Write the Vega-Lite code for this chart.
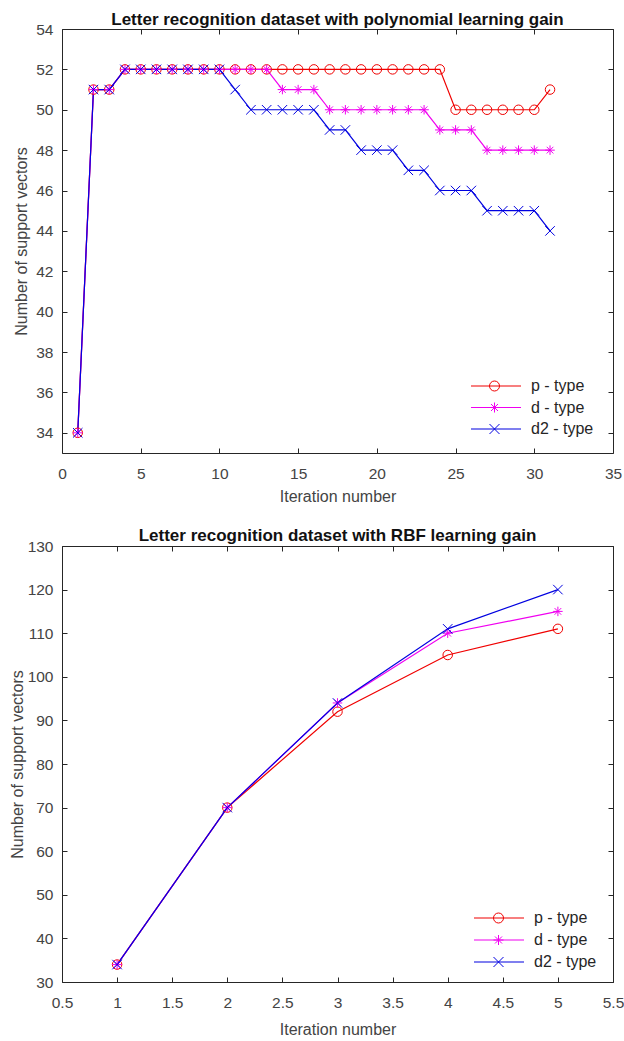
{
  "$schema": "https://vega.github.io/schema/vega-lite/v6.json",
  "background": "white",
  "autosize": {"type": "pad"},
  "padding": {"left": 8, "top": 10, "right": 0, "bottom": 0},
  "datasets": {
    "poly": [
      {"s":"p - type","i":1,"v":34},{"s":"p - type","i":2,"v":51},{"s":"p - type","i":3,"v":51},{"s":"p - type","i":4,"v":52},{"s":"p - type","i":5,"v":52},{"s":"p - type","i":6,"v":52},{"s":"p - type","i":7,"v":52},{"s":"p - type","i":8,"v":52},{"s":"p - type","i":9,"v":52},{"s":"p - type","i":10,"v":52},{"s":"p - type","i":11,"v":52},{"s":"p - type","i":12,"v":52},{"s":"p - type","i":13,"v":52},{"s":"p - type","i":14,"v":52},{"s":"p - type","i":15,"v":52},{"s":"p - type","i":16,"v":52},{"s":"p - type","i":17,"v":52},{"s":"p - type","i":18,"v":52},{"s":"p - type","i":19,"v":52},{"s":"p - type","i":20,"v":52},{"s":"p - type","i":21,"v":52},{"s":"p - type","i":22,"v":52},{"s":"p - type","i":23,"v":52},{"s":"p - type","i":24,"v":52},{"s":"p - type","i":25,"v":50},{"s":"p - type","i":26,"v":50},{"s":"p - type","i":27,"v":50},{"s":"p - type","i":28,"v":50},{"s":"p - type","i":29,"v":50},{"s":"p - type","i":30,"v":50},{"s":"p - type","i":31,"v":51},
      {"s":"d - type","i":1,"v":34},{"s":"d - type","i":2,"v":51},{"s":"d - type","i":3,"v":51},{"s":"d - type","i":4,"v":52},{"s":"d - type","i":5,"v":52},{"s":"d - type","i":6,"v":52},{"s":"d - type","i":7,"v":52},{"s":"d - type","i":8,"v":52},{"s":"d - type","i":9,"v":52},{"s":"d - type","i":10,"v":52},{"s":"d - type","i":11,"v":52},{"s":"d - type","i":12,"v":52},{"s":"d - type","i":13,"v":52},{"s":"d - type","i":14,"v":51},{"s":"d - type","i":15,"v":51},{"s":"d - type","i":16,"v":51},{"s":"d - type","i":17,"v":50},{"s":"d - type","i":18,"v":50},{"s":"d - type","i":19,"v":50},{"s":"d - type","i":20,"v":50},{"s":"d - type","i":21,"v":50},{"s":"d - type","i":22,"v":50},{"s":"d - type","i":23,"v":50},{"s":"d - type","i":24,"v":49},{"s":"d - type","i":25,"v":49},{"s":"d - type","i":26,"v":49},{"s":"d - type","i":27,"v":48},{"s":"d - type","i":28,"v":48},{"s":"d - type","i":29,"v":48},{"s":"d - type","i":30,"v":48},{"s":"d - type","i":31,"v":48},
      {"s":"d2 - type","i":1,"v":34},{"s":"d2 - type","i":2,"v":51},{"s":"d2 - type","i":3,"v":51},{"s":"d2 - type","i":4,"v":52},{"s":"d2 - type","i":5,"v":52},{"s":"d2 - type","i":6,"v":52},{"s":"d2 - type","i":7,"v":52},{"s":"d2 - type","i":8,"v":52},{"s":"d2 - type","i":9,"v":52},{"s":"d2 - type","i":10,"v":52},{"s":"d2 - type","i":11,"v":51},{"s":"d2 - type","i":12,"v":50},{"s":"d2 - type","i":13,"v":50},{"s":"d2 - type","i":14,"v":50},{"s":"d2 - type","i":15,"v":50},{"s":"d2 - type","i":16,"v":50},{"s":"d2 - type","i":17,"v":49},{"s":"d2 - type","i":18,"v":49},{"s":"d2 - type","i":19,"v":48},{"s":"d2 - type","i":20,"v":48},{"s":"d2 - type","i":21,"v":48},{"s":"d2 - type","i":22,"v":47},{"s":"d2 - type","i":23,"v":47},{"s":"d2 - type","i":24,"v":46},{"s":"d2 - type","i":25,"v":46},{"s":"d2 - type","i":26,"v":46},{"s":"d2 - type","i":27,"v":45},{"s":"d2 - type","i":28,"v":45},{"s":"d2 - type","i":29,"v":45},{"s":"d2 - type","i":30,"v":45},{"s":"d2 - type","i":31,"v":44}
    ],
    "rbf": [
      {"s":"p - type","i":1,"v":34},{"s":"p - type","i":2,"v":70},{"s":"p - type","i":3,"v":92},{"s":"p - type","i":4,"v":105},{"s":"p - type","i":5,"v":111},
      {"s":"d - type","i":1,"v":34},{"s":"d - type","i":2,"v":70},{"s":"d - type","i":3,"v":94},{"s":"d - type","i":4,"v":110},{"s":"d - type","i":5,"v":115},
      {"s":"d2 - type","i":1,"v":34},{"s":"d2 - type","i":2,"v":70},{"s":"d2 - type","i":3,"v":94},{"s":"d2 - type","i":4,"v":111},{"s":"d2 - type","i":5,"v":120}
    ]
  },
  "bounds": "flush",
  "spacing": 93,
  "vconcat": [
    {
      "width": 551,
      "height": 424,
      "title": {"text": "Letter recognition dataset with polynomial learning gain", "offset": -20, "baseline": "alphabetic"},
      "data": {"name": "poly"},
      "layer": [
        {
          "mark": {"type": "line", "strokeWidth": 1.2},
          "encoding": {
            "x": {"field": "i", "type": "quantitative", "scale": {"domain": [0, 35], "nice": false, "zero": false},
              "axis": {"orient": "bottom", "values": [0,5,10,15,20,25,30,35], "format": "d", "title": "Iteration number", "labelPadding": 18, "titlePadding": 7}},
            "y": {"field": "v", "type": "quantitative", "scale": {"domain": [33, 54], "nice": false, "zero": false},
              "axis": {"orient": "left", "values": [34,36,38,40,42,44,46,48,50,52,54], "format": "d", "title": "Number of support vectors", "labelPadding": 14, "titlePadding": 6}},
            "color": {"field": "s", "type": "nominal", "scale": {"domain": ["p - type","d - type","d2 - type"], "range": ["#f00000","#f000f0","#0000e0"]},
              "legend": {"title": null, "orient": "none", "legendX": 408, "legendY": 349, "symbolType": "stroke", "symbolSize": 2500, "symbolStrokeWidth": 1.2, "clipHeight": 16, "rowPadding": 5.5, "padding": 0, "symbolOffset": 0, "labelOffset": 9, "labelFont": "Liberation Sans", "labelFontSize": 16, "labelColor": "#262626"}}
          }
        },
        {
          "mark": {"type": "point", "filled": false, "size": 90, "strokeWidth": 1, "opacity": 1},
          "encoding": {
            "x": {"field": "i", "type": "quantitative", "axis": {"orient": "top", "values": [0,5,10,15,20,25,30,35], "labels": false, "title": null}},
            "y": {"field": "v", "type": "quantitative", "axis": {"orient": "right", "values": [34,36,38,40,42,44,46,48,50,52,54], "labels": false, "title": null}},
            "stroke": {"field": "s", "type": "nominal", "scale": {"domain": ["d2 - type","d - type","p - type"], "range": ["#0000e0","#f000f0","#f00000"]},
              "legend": {"title": null, "orient": "none", "legendX": 427, "legendY": 349, "values": ["p - type","d - type","d2 - type"], "symbolSize": 100, "symbolStrokeWidth": 1, "symbolFillColor": "transparent", "clipHeight": 16, "rowPadding": 5.5, "padding": 0, "symbolOffset": 0, "labelExpr": "''"}},
            "shape": {"field": "s", "type": "nominal", "scale": {"domain": ["d2 - type","d - type","p - type"], "range": ["M-1,-1L1,1M-1,1L1,-1", "M0,-1L0,1M-1,0L1,0M-0.7,-0.7L0.7,0.7M-0.7,0.7L0.7,-0.7", "circle"]},
              "legend": {"title": null, "orient": "none", "legendX": 427, "legendY": 349, "values": ["p - type","d - type","d2 - type"], "symbolSize": 100, "symbolStrokeWidth": 1, "symbolFillColor": "transparent", "clipHeight": 16, "rowPadding": 5.5, "padding": 0, "symbolOffset": 0, "labelExpr": "''"}}
          }
        }
      ],
      "resolve": {"axis": {"x": "independent", "y": "independent"}}
    },
    {
      "width": 551,
      "height": 436,
      "title": {"text": "Letter recognition dataset with RBF learning gain", "offset": -19, "baseline": "alphabetic"},
      "data": {"name": "rbf"},
      "layer": [
        {
          "mark": {"type": "line", "strokeWidth": 1.2},
          "encoding": {
            "x": {"field": "i", "type": "quantitative", "scale": {"domain": [0.5, 5.5], "nice": false, "zero": false},
              "axis": {"orient": "bottom", "values": [0.5,1,1.5,2,2.5,3,3.5,4,4.5,5,5.5], "format": ".1~f", "title": "Iteration number", "labelPadding": 18, "titlePadding": 11}},
            "y": {"field": "v", "type": "quantitative", "scale": {"domain": [30, 130], "nice": false, "zero": false},
              "axis": {"orient": "left", "values": [30,40,50,60,70,80,90,100,110,120,130], "format": "d", "title": "Number of support vectors", "labelPadding": 14, "titlePadding": 2}},
            "color": {"field": "s", "type": "nominal", "scale": {"domain": ["p - type","d - type","d2 - type"], "range": ["#f00000","#f000f0","#0000e0"]},
              "legend": {"title": null, "orient": "none", "legendX": 411, "legendY": 364, "symbolType": "stroke", "symbolSize": 2500, "symbolStrokeWidth": 1.2, "clipHeight": 16, "rowPadding": 6, "padding": 0, "symbolOffset": 0, "labelOffset": 9, "labelFont": "Liberation Sans", "labelFontSize": 16, "labelColor": "#262626"}}
          }
        },
        {
          "mark": {"type": "point", "filled": false, "size": 90, "strokeWidth": 1, "opacity": 1},
          "encoding": {
            "x": {"field": "i", "type": "quantitative", "axis": {"orient": "top", "values": [0.5,1,1.5,2,2.5,3,3.5,4,4.5,5,5.5], "labels": false, "title": null}},
            "y": {"field": "v", "type": "quantitative", "axis": {"orient": "right", "values": [30,40,50,60,70,80,90,100,110,120,130], "labels": false, "title": null}},
            "stroke": {"field": "s", "type": "nominal", "scale": {"domain": ["d2 - type","d - type","p - type"], "range": ["#0000e0","#f000f0","#f00000"]},
              "legend": {"title": null, "orient": "none", "legendX": 431, "legendY": 364, "values": ["p - type","d - type","d2 - type"], "symbolSize": 100, "symbolStrokeWidth": 1, "symbolFillColor": "transparent", "clipHeight": 16, "rowPadding": 6, "padding": 0, "symbolOffset": 0, "labelExpr": "''"}},
            "shape": {"field": "s", "type": "nominal", "scale": {"domain": ["d2 - type","d - type","p - type"], "range": ["M-1,-1L1,1M-1,1L1,-1", "M0,-1L0,1M-1,0L1,0M-0.7,-0.7L0.7,0.7M-0.7,0.7L0.7,-0.7", "circle"]},
              "legend": {"title": null, "orient": "none", "legendX": 431, "legendY": 364, "values": ["p - type","d - type","d2 - type"], "symbolSize": 100, "symbolStrokeWidth": 1, "symbolFillColor": "transparent", "clipHeight": 16, "rowPadding": 6, "padding": 0, "symbolOffset": 0, "labelExpr": "''"}}
          }
        }
      ],
      "resolve": {"axis": {"x": "independent", "y": "independent"}}
    }
  ],
  "resolve": {"scale": {"color": "independent", "shape": "independent", "stroke": "independent"}, "legend": {"color": "independent", "shape": "independent", "stroke": "independent"}},
  "config": {
    "view": {"stroke": "#262626", "strokeWidth": 1},
    "axis": {"grid": false, "domain": false, "tickSize": -5, "tickColor": "#262626", "tickWidth": 1, "labelFont": "Liberation Sans", "labelFontSize": 15.5, "labelColor": "#444444", "titleFont": "Liberation Sans", "titleFontSize": 16, "titleFontWeight": "normal", "titleColor": "#444444", "labelFlush": false, "labelOverlap": false, "labelBound": false},
    "title": {"font": "Liberation Sans", "fontSize": 17, "fontWeight": "bold", "color": "#111111", "anchor": "middle"}
  }
}
